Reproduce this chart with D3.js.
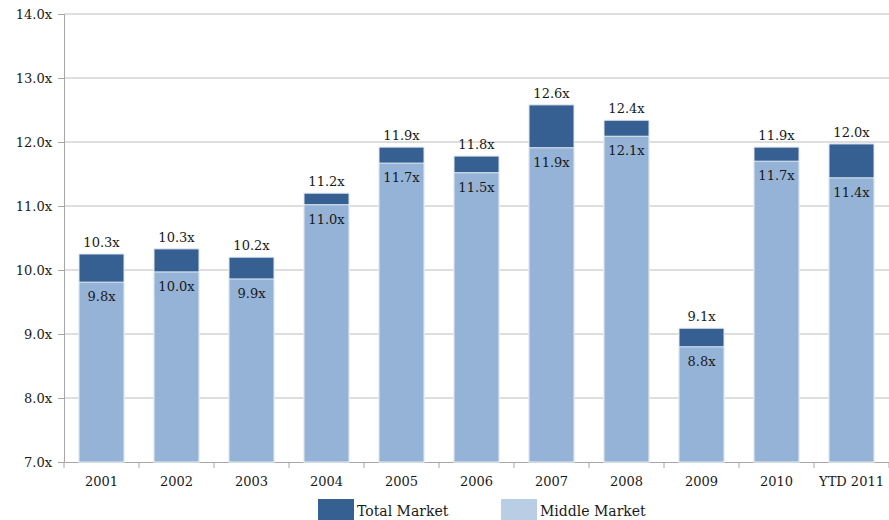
<!DOCTYPE html>
<html><head><meta charset="utf-8">
<script src="https://cdn.jsdelivr.net/npm/d3@7"></script>
<style>body{margin:0;background:#fff}svg{display:block}text{font-family:"DejaVu Serif","Liberation Serif",serif;fill:#1a1a1a}</style>
</head><body><svg id="c" width="889" height="520"></svg>
<script>
const categories = ["2001","2002","2003","2004","2005","2006","2007","2008","2009","2010","YTD 2011"];
const totalMarket = [10.25,10.33,10.20,11.20,11.92,11.78,12.58,12.34,9.09,11.92,11.97];
const middleMarket = [9.81,9.97,9.86,11.02,11.67,11.52,11.91,12.09,8.80,11.70,11.44];
const totalLabels = ["10.3x","10.3x","10.2x","11.2x","11.9x","11.8x","12.6x","12.4x","9.1x","11.9x","12.0x"];
const middleLabels = ["9.8x","10.0x","9.9x","11.0x","11.7x","11.5x","11.9x","12.1x","8.8x","11.7x","11.4x"];
const yTicks = [7,8,9,10,11,12,13,14];
const seriesNames = ["Total Market","Middle Market"];

const svg = d3.select("#c");
const L = 64, R = 889, T = 14, B = 462;
const x = d3.scaleBand().domain(categories).range([L, R]).paddingInner(0.4).paddingOuter(0.2);
const y = d3.scaleLinear().domain([7,14]).range([B, T]);

// gridlines
svg.append("g").selectAll("line").data(yTicks.slice(1)).join("line")
  .attr("x1", L).attr("x2", R).attr("y1", d=>y(d)).attr("y2", d=>y(d))
  .attr("stroke", "#bdbdbd").attr("stroke-width", 1.2);

// y axis
const yAxis = svg.append("g").attr("transform", `translate(${L},0)`)
  .call(d3.axisLeft(y).tickValues(yTicks).tickFormat(d=>d3.format(".1f")(d)+"x").tickSize(6).tickPadding(6));
yAxis.select(".domain").attr("stroke", "#a6a6a6");
yAxis.selectAll(".tick line").attr("stroke", "#a6a6a6");
yAxis.selectAll("text").style("font-size","13px").attr("fill","#1a1a1a");

// x axis
const xAxis = svg.append("g").attr("transform", `translate(0,${B})`)
  .call(d3.axisBottom(x).tickSize(0).tickPadding(15));
xAxis.select(".domain").attr("stroke", "#a6a6a6");
xAxis.selectAll("text").style("font-size","13px").attr("fill","#1a1a1a");
const step = x.step();
svg.append("g").selectAll("line").data(d3.range(categories.length+1)).join("line")
  .attr("x1", i=>L + i*step).attr("x2", i=>L + i*step)
  .attr("y1", B).attr("y2", B+6).attr("stroke","#a6a6a6");

// bars
const g = svg.append("g");
g.selectAll("rect.tot").data(categories).join("rect").attr("class","tot")
  .attr("x", d=>x(d)).attr("width", x.bandwidth())
  .attr("y", (d,i)=>y(totalMarket[i])).attr("height",(d,i)=>B - y(totalMarket[i]))
  .attr("fill","#366092").attr("stroke","#dfe6ef").attr("stroke-width",1);
g.selectAll("rect.mid").data(categories).join("rect").attr("class","mid")
  .attr("x", d=>x(d)).attr("width", x.bandwidth())
  .attr("y", (d,i)=>y(middleMarket[i])).attr("height",(d,i)=>B - y(middleMarket[i]))
  .attr("fill","#95b3d7").attr("stroke","#e6ecf4").attr("stroke-width",1);

// labels
g.selectAll("text.tl").data(categories).join("text").attr("class","tl")
  .attr("x", d=>x(d)+x.bandwidth()/2).attr("y",(d,i)=>y(totalMarket[i])-7)
  .attr("text-anchor","middle").style("font-size","13px").text((d,i)=>totalLabels[i]);
g.selectAll("text.ml").data(categories).join("text").attr("class","ml")
  .attr("x", d=>x(d)+x.bandwidth()/2).attr("y",(d,i)=>y(middleMarket[i])+19)
  .attr("text-anchor","middle").style("font-size","13px").text((d,i)=>middleLabels[i]);

// legend
const legColors = ["#366092","#b9cde5"];
const legX = [318, 501];
const lg = svg.append("g");
seriesNames.forEach((n,i)=>{
  lg.append("rect").attr("x",legX[i]).attr("y",499).attr("width",36).attr("height",21).attr("fill",legColors[i]);
  lg.append("text").attr("x",legX[i]+39).attr("y",516).style("font-size","14px").text(n);
});
</script></body></html>
